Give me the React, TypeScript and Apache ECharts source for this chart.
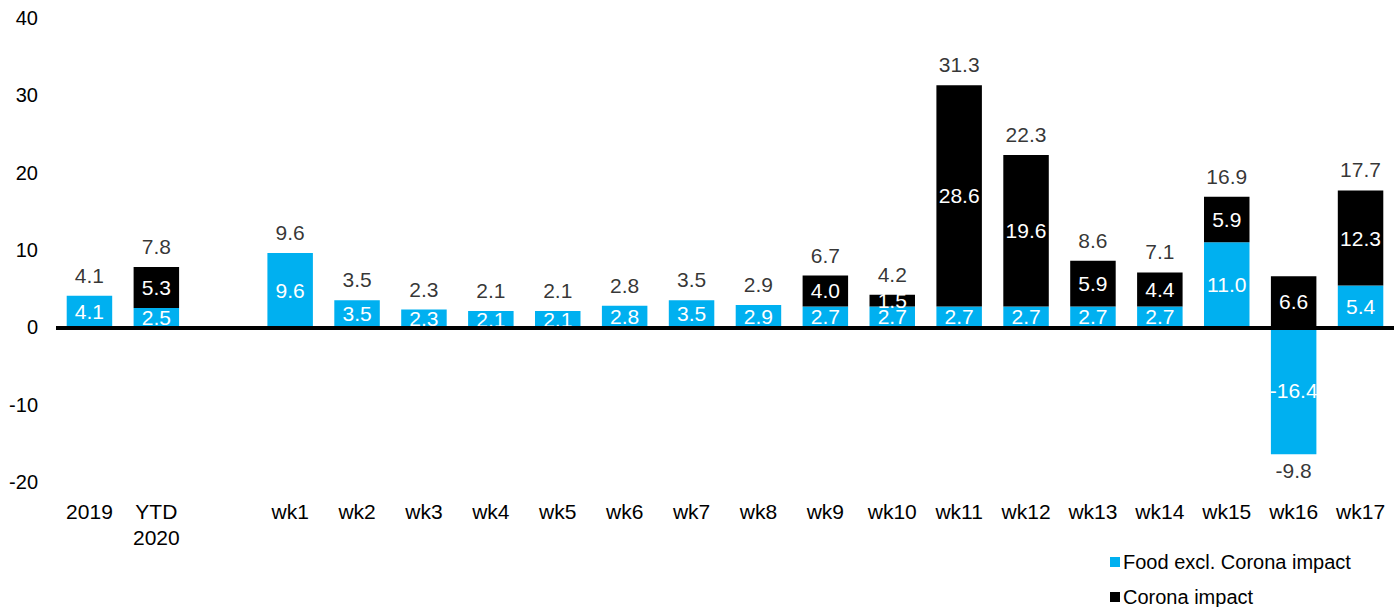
import React, { useEffect, useRef } from "react";
import * as echarts from "echarts";

// Categories along the x axis (the empty one is a spacer between YTD and the weeks)
const categories = [
  "2019", "YTD\n2020", "",
  "wk1", "wk2", "wk3", "wk4", "wk5", "wk6", "wk7", "wk8", "wk9",
  "wk10", "wk11", "wk12", "wk13", "wk14", "wk15", "wk16", "wk17",
];

// Food growth excluding the Corona effect
const foodValues: (number | null)[] = [
  4.1, 2.5, null,
  9.6, 3.5, 2.3, 2.1, 2.1, 2.8, 3.5, 2.9, 2.7,
  2.7, 2.7, 2.7, 2.7, 2.7, 11.0, -16.4, 5.4,
];

// Corona impact on top of the base
const coronaValues: (number | null)[] = [
  null, 5.3, null,
  null, null, null, null, null, null, null, null, 4.0,
  1.5, 28.6, 19.6, 5.9, 4.4, 5.9, 6.6, 12.3,
];

const seriesNames = ["Food excl. Corona impact", "Corona impact"];

const yTicks = { min: -20, max: 40, interval: 10 };

const BLUE = "#00B0F0";
const FONT = "'Liberation Sans', Arial, Helvetica, sans-serif";
const LABEL_SIZE = 21;

export default function App() {
  const ref = useRef<HTMLDivElement>(null);

  useEffect(() => {
    document.body.style.margin = "0";
    if (!ref.current) return;
    const chart = echarts.init(ref.current, undefined, { renderer: "svg" });

    // Totals per category and where to anchor their label (end of the stack)
    const totals = categories.map((_, i) => {
      const a = foodValues[i];
      const b = coronaValues[i];
      if (a == null && b == null) return null;
      return Math.round(((a ?? 0) + (b ?? 0)) * 10) / 10;
    });
    const totalPoints = categories.map((_, i) => {
      const t = totals[i];
      if (t == null) return { value: null };
      const parts = [foodValues[i] ?? 0, coronaValues[i] ?? 0];
      if (t >= 0) {
        const top = parts.filter((v) => v > 0).reduce((s, v) => s + v, 0);
        return { value: top, total: t, label: { position: "top", distance: 10 } };
      }
      const bottom = parts.filter((v) => v < 0).reduce((s, v) => s + v, 0);
      return { value: bottom, total: t, label: { position: "bottom", distance: 6 } };
    });

    const insideLabel = {
      show: true,
      position: "inside",
      color: "#ffffff",
      fontSize: LABEL_SIZE,
      fontFamily: FONT,
      formatter: (p: any) => (p.value == null ? "" : Number(p.value).toFixed(1)),
    };

    const legendBase = {
      orient: "horizontal",
      left: 1105,
      itemWidth: 10,
      itemHeight: 10,
      icon: "rect",
      textStyle: { fontSize: 20, color: "#000", fontFamily: FONT, padding: [0, 0, 0, -2] },
    };

    chart.setOption({
      animation: false,
      textStyle: { fontFamily: FONT },
      grid: { left: 56, width: 1344, top: 18, height: 464 },
      legend: [
        { ...legendBase, top: 547, data: [seriesNames[0]] },
        { ...legendBase, top: 582, data: [seriesNames[1]] },
      ],
      xAxis: {
        type: "category",
        data: categories,
        axisLine: { show: false, onZero: false },
        axisTick: { show: false },
        axisLabel: {
          color: "#000",
          fontSize: LABEL_SIZE,
          fontFamily: FONT,
          margin: 16,
          lineHeight: 26,
          interval: 0,
        },
      },
      yAxis: {
        type: "value",
        min: yTicks.min,
        max: yTicks.max,
        interval: yTicks.interval,
        splitLine: { show: false },
        axisLine: { show: false },
        axisTick: { show: false },
        axisLabel: { color: "#000", fontSize: 20, fontFamily: FONT, margin: 18 },
      },
      series: [
        {
          name: seriesNames[0],
          type: "bar",
          stack: "total",
          barWidth: "68%",
          data: foodValues,
          itemStyle: { color: BLUE },
          label: insideLabel,
          markLine: {
            silent: true,
            symbol: "none",
            label: { show: false },
            lineStyle: { color: "#000", width: 4, type: "solid" },
            data: [{ yAxis: 0 }],
            z: 10,
          },
        },
        {
          name: seriesNames[1],
          type: "bar",
          stack: "total",
          barWidth: "68%",
          data: coronaValues,
          itemStyle: { color: "#000000" },
          label: insideLabel,
        },
        {
          name: "Total",
          type: "scatter",
          symbolSize: 0,
          silent: true,
          itemStyle: { color: "transparent" },
          data: totalPoints,
          label: {
            show: true,
            color: "#000",
            fontSize: LABEL_SIZE,
            fontFamily: FONT,
            formatter: (p: any) =>
              p.data && p.data.total != null ? Number(p.data.total).toFixed(1) : "",
          },
        },
      ],
    });

    return () => chart.dispose();
  }, []);

  return <div ref={ref} style={{ width: 1394, height: 607 }} />;
}
